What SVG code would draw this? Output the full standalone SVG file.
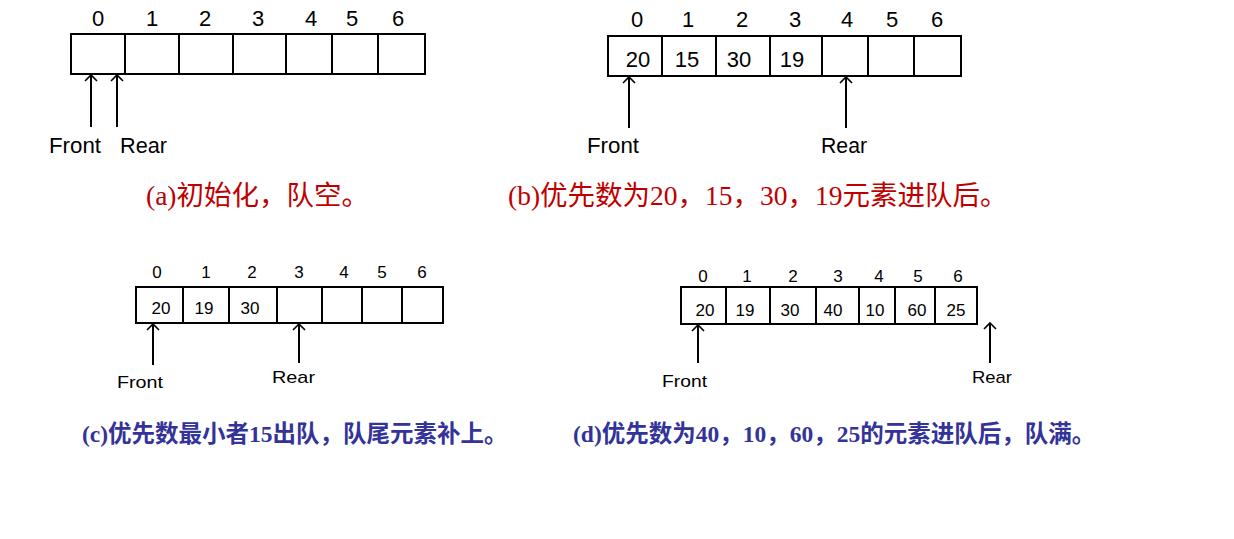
<svg xmlns="http://www.w3.org/2000/svg" width="1234" height="539" viewBox="0 0 1234 539">
<style>
  .cell{fill:#fff;stroke:#000;stroke-width:2}
  .big{font-family:"Liberation Sans",Arial,sans-serif;font-size:22px;fill:#000}
  .sm{font-family:"Liberation Sans",Arial,sans-serif;font-size:17px;fill:#000}
  .mid{text-anchor:middle}
  .ptr{stroke:#000;stroke-width:2;fill:none;marker-start:url(#open)}
  .capR{font-family:"Liberation Serif","Noto Sans CJK SC",serif;font-size:27.5px;fill:#C00000}
  .capB{font-family:"Liberation Serif","Noto Sans CJK SC",serif;font-size:23.5px;font-weight:bold;fill:#333399}
</style>
<defs>
  <marker id="open" markerUnits="userSpaceOnUse" markerWidth="16" markerHeight="16" refX="8" refY="8" orient="auto-start-reverse" viewBox="0 0 16 16">
    <path d="M2,2 L8,8 L2,14" fill="none" stroke="#000" stroke-width="1.6"/>
  </marker>
</defs>
<rect width="1234" height="539" fill="#fff"/>

<g id="queue-a">
  <rect class="cell" x="71" y="34" width="54" height="40"/>
  <rect class="cell" x="125" y="34" width="54" height="40"/>
  <rect class="cell" x="179" y="34" width="54" height="40"/>
  <rect class="cell" x="233" y="34" width="53" height="40"/>
  <rect class="cell" x="286" y="34" width="46" height="40"/>
  <rect class="cell" x="332" y="34" width="46" height="40"/>
  <rect class="cell" x="378" y="34" width="47" height="40"/>
  <g class="big mid">
    <text x="98" y="26">0</text><text x="152" y="26">1</text><text x="205" y="26">2</text><text x="258" y="26">3</text><text x="311" y="26">4</text><text x="352" y="26">5</text><text x="398" y="26">6</text>
  </g>
  <text class="big" x="49" y="153" textLength="52" lengthAdjust="spacingAndGlyphs">Front</text>
  <text class="big" x="120" y="153" textLength="47" lengthAdjust="spacingAndGlyphs">Rear</text>
</g>

<g id="queue-b">
  <rect class="cell" x="608" y="36" width="54" height="40"/>
  <rect class="cell" x="662" y="36" width="54" height="40"/>
  <rect class="cell" x="716" y="36" width="54" height="40"/>
  <rect class="cell" x="770" y="36" width="52" height="40"/>
  <rect class="cell" x="822" y="36" width="46" height="40"/>
  <rect class="cell" x="868" y="36" width="46" height="40"/>
  <rect class="cell" x="914" y="36" width="47" height="40"/>
  <g class="big mid">
    <text x="637" y="27">0</text><text x="688" y="27">1</text><text x="742" y="27">2</text><text x="795" y="27">3</text><text x="847" y="27">4</text><text x="892" y="27">5</text><text x="937" y="27">6</text>
    <text x="638" y="67">20</text><text x="687" y="67">15</text><text x="739" y="67">30</text><text x="792" y="67">19</text>
  </g>
  <text class="big" x="587" y="153" textLength="52" lengthAdjust="spacingAndGlyphs">Front</text>
  <text class="big" x="821" y="153" textLength="46" lengthAdjust="spacingAndGlyphs">Rear</text>
</g>

<g id="queue-c">
  <rect class="cell" x="136" y="287" width="47" height="36"/>
  <rect class="cell" x="183" y="287" width="46" height="36"/>
  <rect class="cell" x="229" y="287" width="48" height="36"/>
  <rect class="cell" x="277" y="287" width="45" height="36"/>
  <rect class="cell" x="322" y="287" width="40" height="36"/>
  <rect class="cell" x="362" y="287" width="40" height="36"/>
  <rect class="cell" x="402" y="287" width="41" height="36"/>
  <g class="sm mid">
    <text x="157" y="278">0</text><text x="206" y="278">1</text><text x="252" y="278">2</text><text x="299" y="278">3</text><text x="344" y="278">4</text><text x="382" y="278">5</text><text x="422" y="278">6</text>
    <text x="161" y="314">20</text><text x="204" y="314">19</text><text x="250" y="314">30</text>
  </g>
  <text class="sm" x="117" y="388" textLength="46" lengthAdjust="spacingAndGlyphs">Front</text>
  <text class="sm" x="272" y="383" textLength="43" lengthAdjust="spacingAndGlyphs">Rear</text>
</g>

<g id="queue-d">
  <rect class="cell" x="681" y="287" width="45" height="37"/>
  <rect class="cell" x="726" y="287" width="44" height="37"/>
  <rect class="cell" x="770" y="287" width="46" height="37"/>
  <rect class="cell" x="816" y="287" width="43" height="37"/>
  <rect class="cell" x="859" y="287" width="36" height="37"/>
  <rect class="cell" x="895" y="287" width="40" height="37"/>
  <rect class="cell" x="935" y="287" width="42" height="37"/>
  <g class="sm mid">
    <text x="703" y="282">0</text><text x="747" y="282">1</text><text x="793" y="282">2</text><text x="838" y="282">3</text><text x="879" y="282">4</text><text x="918" y="282">5</text><text x="958" y="282">6</text>
    <text x="705" y="316">20</text><text x="745" y="316">19</text><text x="790" y="316">30</text><text x="833" y="316">40</text><text x="875" y="316">10</text><text x="917" y="316">60</text><text x="956" y="316">25</text>
  </g>
  <text class="sm" x="662" y="387" textLength="45" lengthAdjust="spacingAndGlyphs">Front</text>
  <text class="sm" x="972" y="383" textLength="40" lengthAdjust="spacingAndGlyphs">Rear</text>
</g>

<g id="connectors">
  <line class="ptr" x1="91" y1="75" x2="91" y2="127"/>
  <line class="ptr" x1="117" y1="75" x2="117" y2="127"/>
  <line class="ptr" x1="629" y1="77" x2="629" y2="128"/>
  <line class="ptr" x1="846" y1="77" x2="846" y2="128"/>
  <line class="ptr" x1="153" y1="324" x2="153" y2="365"/>
  <line class="ptr" x1="299" y1="324" x2="299" y2="363"/>
  <line class="ptr" x1="698" y1="325" x2="698" y2="363"/>
  <line class="ptr" x1="990" y1="323" x2="990" y2="363"/>
</g>

<g id="captions">
  <text class="capR" x="146" y="205">(a)初始化，队空。</text>
  <text class="capR" x="508" y="205" font-size="27">(b)优先数为20，15，30，19元素进队后。</text>
  <text class="capB" x="82" y="442">(c)优先数最小者15出队，队尾元素补上。</text>
  <text class="capB" x="573" y="442" font-size="22.4">(d)优先数为40，10，60，25的元素进队后，队满。</text>
</g>
</svg>
